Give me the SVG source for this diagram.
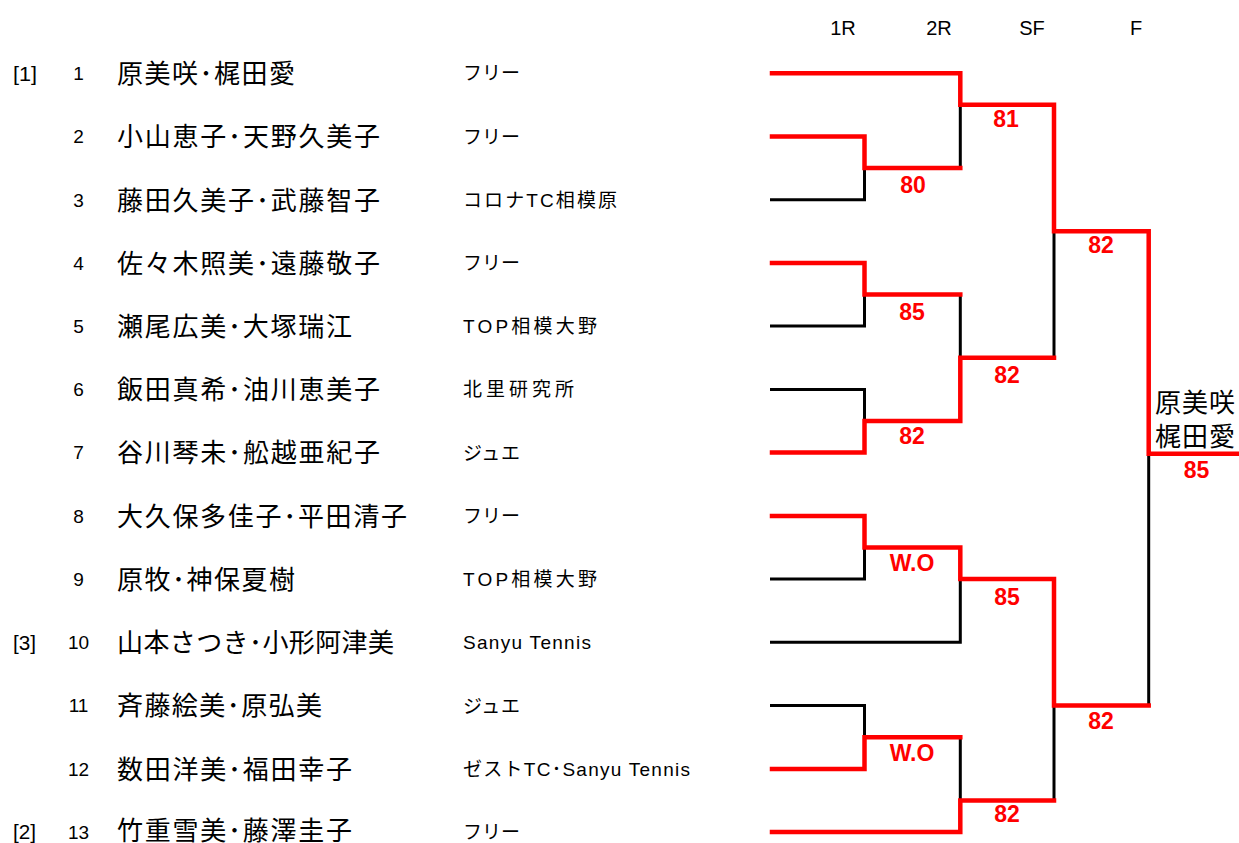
<svg xmlns="http://www.w3.org/2000/svg" width="1239" height="843" viewBox="0 0 1239 843">
<style>
.hd{font-family:"Liberation Sans",Arial,sans-serif;font-size:20px;fill:#000;text-anchor:middle}
.sd{font-family:"Liberation Sans",Arial,sans-serif;font-size:21px;fill:#000}
.no{font-family:"Liberation Sans",Arial,sans-serif;font-size:19px;fill:#000;text-anchor:middle}
.nm{font-family:"Noto Sans CJK JP","Noto Sans CJK SC",sans-serif;font-size:26px;fill:#000}
.cl{font-family:"Liberation Sans","Noto Sans CJK JP",sans-serif;font-size:19px;fill:#000}
.sc{font-family:"Liberation Sans",Arial,sans-serif;font-size:23px;font-weight:bold;fill:#FF0000;text-anchor:middle}
.win{fill:none;stroke:#FF0000;stroke-width:4.5;stroke-linejoin:miter;stroke-linecap:square}
.los{fill:none;stroke:#000;stroke-width:3;stroke-linejoin:miter}
</style>
<rect width="1239" height="843" fill="#fff"/>
<g id="header">
<text class="hd" x="843" y="35">1R</text>
<text class="hd" x="939" y="35">2R</text>
<text class="hd" x="1032" y="35">SF</text>
<text class="hd" x="1136" y="35">F</text>
</g>
<g id="connectors">
<path class="los" d="M770,199.7 H864.5 V168"/>
<path class="los" d="M960.3,104.8 V168"/>
<path class="los" d="M770,326 H864.5 V294.5"/>
<path class="los" d="M770,389.4 H864.5 V421"/>
<path class="los" d="M960.3,294.5 V357.8"/>
<path class="los" d="M1054,231.3 V357.8"/>
<path class="los" d="M770,579 H864.5 V547.5"/>
<path class="los" d="M770,642.3 H960.3 V579"/>
<path class="los" d="M770,705.5 H864.5 V737.2"/>
<path class="los" d="M960.3,737.2 V800.4"/>
<path class="los" d="M1054,705.5 V800.4"/>
<path class="los" d="M1148.7,453.8 V705.5"/>
<path class="win" d="M772,73.2 H960.3 V104.8 H1054 V231.3 H1148.7 V453.8 H1241"/>
<path class="win" d="M772,136.4 H864.5 V168 H960.3"/>
<path class="win" d="M772,263 H864.5 V294.5 H960.3"/>
<path class="win" d="M772,452.6 H864.5 V421 H960.3 V357.8 H1054"/>
<path class="win" d="M772,516 H864.5 V547.5 H960.3 V579 H1054 V705.5 H1148.7"/>
<path class="win" d="M772,769 H864.5 V737.2 H960.3"/>
<path class="win" d="M772,832 H960.3 V800.4 H1054"/>
</g>
<g id="p1"><text class="sd" x="13" y="80.5" textLength="24" lengthAdjust="spacingAndGlyphs">[1]</text><text class="no" x="78.5" y="80">1</text><text class="nm" x="117" y="83" textLength="178" lengthAdjust="spacing">原美咲･梶田愛</text><text class="cl" x="463" y="80.2" textLength="57" lengthAdjust="spacing">フリー</text></g>
<g id="p2"><text class="no" x="78.5" y="143.3">2</text><text class="nm" x="117" y="146.3" textLength="263" lengthAdjust="spacing">小山恵子･天野久美子</text><text class="cl" x="463" y="143.5" textLength="57" lengthAdjust="spacing">フリー</text></g>
<g id="p3"><text class="no" x="78.5" y="206.5">3</text><text class="nm" x="117" y="209.5" textLength="263" lengthAdjust="spacing">藤田久美子･武藤智子</text><text class="cl" x="463" y="206.7" textLength="154" lengthAdjust="spacing">コロナTC相模原</text></g>
<g id="p4"><text class="no" x="78.5" y="269.8">4</text><text class="nm" x="117" y="272.8" textLength="263" lengthAdjust="spacing">佐々木照美･遠藤敬子</text><text class="cl" x="463" y="270" textLength="57" lengthAdjust="spacing">フリー</text></g>
<g id="p5"><text class="no" x="78.5" y="332.8">5</text><text class="nm" x="117" y="335.8" textLength="235" lengthAdjust="spacing">瀬尾広美･大塚瑞江</text><text class="cl" x="463" y="333" textLength="134" lengthAdjust="spacing">TOP相模大野</text></g>
<g id="p6"><text class="no" x="78.5" y="396.2">6</text><text class="nm" x="117" y="399.2" textLength="263" lengthAdjust="spacing">飯田真希･油川恵美子</text><text class="cl" x="463" y="396.4" textLength="111" lengthAdjust="spacing">北里研究所</text></g>
<g id="p7"><text class="no" x="78.5" y="459.4">7</text><text class="nm" x="117" y="462.4" textLength="263" lengthAdjust="spacing">谷川琴未･舩越亜紀子</text><text class="cl" x="463" y="459.6" textLength="57" lengthAdjust="spacing">ジュエ</text></g>
<g id="p8"><text class="no" x="78.5" y="522.8">8</text><text class="nm" x="117" y="525.8" textLength="290" lengthAdjust="spacing">大久保多佳子･平田清子</text><text class="cl" x="463" y="523" textLength="57" lengthAdjust="spacing">フリー</text></g>
<g id="p9"><text class="no" x="78.5" y="585.9">9</text><text class="nm" x="117" y="588.9" textLength="178" lengthAdjust="spacing">原牧･神保夏樹</text><text class="cl" x="463" y="586.1" textLength="134" lengthAdjust="spacing">TOP相模大野</text></g>
<g id="p10"><text class="sd" x="13" y="650" textLength="23" lengthAdjust="spacingAndGlyphs">[3]</text><text class="no" x="78.5" y="649.1">10</text><text class="nm" x="117" y="652.1" textLength="277" lengthAdjust="spacing">山本さつき･小形阿津美</text><text class="cl" x="463" y="649.3" textLength="128" lengthAdjust="spacing">Sanyu Tennis</text></g>
<g id="p11"><text class="no" x="78.5" y="712.3">11</text><text class="nm" x="117" y="715.3" textLength="205" lengthAdjust="spacing">斉藤絵美･原弘美</text><text class="cl" x="463" y="712.5" textLength="57" lengthAdjust="spacing">ジュエ</text></g>
<g id="p12"><text class="no" x="78.5" y="775.8">12</text><text class="nm" x="117" y="778.8" textLength="235" lengthAdjust="spacing">数田洋美･福田幸子</text><text class="cl" x="463" y="776" textLength="227" lengthAdjust="spacing">ゼストTC･Sanyu Tennis</text></g>
<g id="p13"><text class="sd" x="13" y="839" textLength="23" lengthAdjust="spacingAndGlyphs">[2]</text><text class="no" x="78.5" y="838.5">13</text><text class="nm" x="117" y="839.5" textLength="235" lengthAdjust="spacing">竹重雪美･藤澤圭子</text><text class="cl" x="463" y="838.5" textLength="57" lengthAdjust="spacing">フリー</text></g>
<g id="scores">
<text class="sc" x="913" y="193.2">80</text>
<text class="sc" x="1006" y="127.2">81</text>
<text class="sc" x="912" y="320.2">85</text>
<text class="sc" x="912" y="444.2">82</text>
<text class="sc" x="1007" y="383.2">82</text>
<text class="sc" x="1101" y="253.2">82</text>
<text class="sc" x="912" y="570.7">W.O</text>
<text class="sc" x="1007" y="604.7">85</text>
<text class="sc" x="912" y="760.7">W.O</text>
<text class="sc" x="1007" y="822.2">82</text>
<text class="sc" x="1101" y="729.2">82</text>
</g>
<g id="champion">
<text class="nm" x="1155" y="411.5" textLength="80" lengthAdjust="spacing">原美咲</text>
<text class="nm" x="1155" y="445.5" textLength="80" lengthAdjust="spacing">梶田愛</text>
<text class="sc" x="1196.5" y="478.2">85</text>
</g>
</svg>
